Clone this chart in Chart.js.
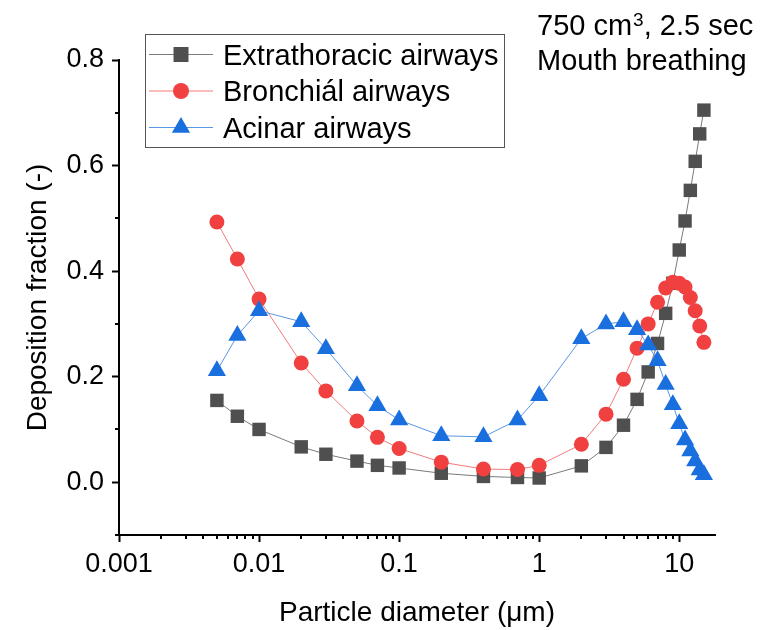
<!DOCTYPE html>
<html>
<head>
<meta charset="utf-8">
<script src="https://cdn.jsdelivr.net/npm/chart.js@4.4.1/dist/chart.umd.min.js"></script>
<style>
  html, body { margin: 0; padding: 0; background: #fff; }
</style>
</head>
<body>
<canvas id="chart" width="760" height="630"></canvas>
<script>
// particle diameters (um), the same for all three curves
const diameters = [0.005, 0.007, 0.01, 0.02, 0.03, 0.05, 0.07, 0.1, 0.2, 0.4, 0.7, 1,
  2, 3, 4, 5, 6, 7, 8, 9, 10, 11, 12, 13, 14, 15];

// deposition fractions
const extrathoracic = [0.155, 0.125, 0.100, 0.067, 0.053, 0.040, 0.032, 0.027, 0.017, 0.011, 0.009, 0.008,
  0.031, 0.066, 0.108, 0.157, 0.209, 0.263, 0.320, 0.377, 0.440, 0.495, 0.553, 0.608, 0.660, 0.705];
const bronchial = [0.493, 0.423, 0.347, 0.226, 0.173, 0.116, 0.085, 0.064, 0.038, 0.025, 0.024, 0.032,
  0.072, 0.129, 0.195, 0.254, 0.300, 0.341, 0.368, 0.379, 0.377, 0.370, 0.350, 0.325, 0.296, 0.265];
const acinar = [0.211, 0.278, 0.325, 0.304, 0.253, 0.183, 0.145, 0.118, 0.088, 0.086, 0.118, 0.164,
  0.272, 0.300, 0.304, 0.289, 0.260, 0.230, 0.185, 0.147, 0.111, 0.080, 0.059, 0.040, 0.023, 0.014];

const seriesNames = ['Extrathoracic airways', 'Bronchiál airways', 'Acinar airways'];
const xTickLabels = ['0.001', '0.01', '0.1', '1', '10'];
const yTickLabels = ['0.0', '0.2', '0.4', '0.6', '0.8'];
const noteLines = ['750 cm', '3', ', 2.5 sec', 'Mouth breathing'];

const FONT = "'Liberation Sans', Arial, sans-serif";
Chart.defaults.font.family = FONT;
Chart.defaults.color = '#000';

const toPoints = (ys) => ys.map((v, i) => ({ x: diameters[i], y: v }));

// decades get a label, the 2..9 steps in between are minor ticks
const xDecades = xTickLabels.map(Number);
const isDecade = (v) => xDecades.some(d => Math.abs(v - d) < d * 1e-6);
const yLabelFor = (v) => yTickLabels.find(l => Math.abs(Number(l) - v) < 1e-6);

// minor ticks, legend box and the note in the top right corner
const decorPlugin = {
  id: 'decor',
  afterDraw(chart) {
    const ctx = chart.ctx;
    const xs = chart.scales.x, ys = chart.scales.y;
    ctx.save();
    ctx.strokeStyle = '#000';
    ctx.lineWidth = 2;
    xs.ticks.forEach(t => {
      if (isDecade(t.value)) return;
      const px = Math.round(xs.getPixelForValue(t.value));
      ctx.beginPath();
      ctx.moveTo(px, xs.top);
      ctx.lineTo(px, xs.top + 4);
      ctx.stroke();
    });
    ys.ticks.forEach(t => {
      if (yLabelFor(t.value)) return;
      const py = Math.round(ys.getPixelForValue(t.value));
      ctx.beginPath();
      ctx.moveTo(ys.right, py);
      ctx.lineTo(ys.right - 4, py);
      ctx.stroke();
    });

    // legend
    ctx.lineWidth = 1;
    ctx.strokeStyle = '#555';
    ctx.strokeRect(145.5, 34.5, 359, 113);
    const legendRadius = { rect: 10.6, circle: 8, triangle: 10.5 };
    chart.data.datasets.forEach((ds, i) => {
      const rowY = 54.5 + i * 36.5;
      ctx.strokeStyle = ds.borderColor;
      ctx.lineWidth = 1;
      ctx.beginPath();
      ctx.moveTo(149, rowY);
      ctx.lineTo(213, rowY);
      ctx.stroke();
      ctx.fillStyle = ds.pointBackgroundColor;
      Chart.helpers.drawPoint(ctx, {
        pointStyle: ds.pointStyle, rotation: 0,
        radius: legendRadius[ds.pointStyle], borderWidth: 0
      }, 181, rowY);
      ctx.fillStyle = '#000';
      ctx.font = '29px ' + FONT;
      ctx.textAlign = 'left';
      ctx.textBaseline = 'alphabetic';
      ctx.fillText(ds.label, 223, rowY + 10);
    });

    // note
    ctx.fillStyle = '#000';
    ctx.font = '29px ' + FONT;
    let nx = 537;
    ctx.fillText(noteLines[0], nx, 35);
    nx += ctx.measureText(noteLines[0]).width;
    ctx.font = '19px ' + FONT;
    ctx.fillText(noteLines[1], nx + 1, 26);
    nx += ctx.measureText(noteLines[1]).width + 1;
    ctx.font = '29px ' + FONT;
    ctx.fillText(noteLines[2], nx, 35);
    ctx.fillText(noteLines[3], 537, 70);
    ctx.restore();
  }
};

const ctx = document.getElementById('chart').getContext('2d');
new Chart(ctx, {
  type: 'line',
  data: {
    datasets: [{
      label: seriesNames[0],
      data: toPoints(extrathoracic),
      borderColor: '#7a7a7a',
      backgroundColor: '#4f4f4f',
      pointBackgroundColor: '#4f4f4f',
      pointStyle: 'rect',
      pointRadius: 9.5,
      order: 3
    }, {
      label: seriesNames[1],
      data: toPoints(bronchial),
      borderColor: '#f27a7a',
      backgroundColor: '#f04040',
      pointBackgroundColor: '#f04040',
      pointStyle: 'circle',
      pointRadius: 7.5,
      order: 2
    }, {
      label: seriesNames[2],
      data: toPoints(acinar),
      borderColor: '#5b95e5',
      backgroundColor: '#1a6fdf',
      pointBackgroundColor: '#1a6fdf',
      pointStyle: 'triangle',
      pointRadius: 10.5,
      order: 1
    }]
  },
  options: {
    responsive: false,
    animation: false,
    elements: {
      line: { borderWidth: 1, tension: 0 },
      point: { borderWidth: 0, hoverRadius: 8 }
    },
    layout: { padding: { top: 60, right: 45, left: 0, bottom: 0 } },
    scales: {
      x: {
        type: 'logarithmic',
        min: 0.001,
        max: 18,
        afterFit: (scale) => { scale.height = 95; },
        afterBuildTicks: (scale) => {
          const vals = [];
          xDecades.forEach((d, i) => {
            vals.push(d);
            if (i < xDecades.length - 1) {
              for (let k = 2; k <= 9; k++) vals.push(k * d);
            }
          });
          scale.ticks = vals.map(v => ({ value: v }));
        },
        border: { display: true, color: '#000', width: 2 },
        grid: {
          display: true,
          drawOnChartArea: false,
          drawTicks: true,
          tickLength: 7,
          tickWidth: 2,
          tickColor: (c) => (c.tick && isDecade(c.tick.value)) ? '#000' : 'rgba(0,0,0,0)'
        },
        ticks: {
          autoSkip: false,
          maxRotation: 0,
          minRotation: 0,
          padding: 6,
          font: { size: 27 },
          callback: (v) => {
            const l = xTickLabels.find(s => Math.abs(Number(s) - v) < Number(s) * 1e-6);
            return l || '';
          }
        },
        title: {
          display: true,
          text: 'Particle diameter (μm)',
          font: { size: 28 },
          padding: { top: 0, bottom: 0 }
        }
      },
      y: {
        min: -0.1,
        max: 0.8,
        afterFit: (scale) => { scale.width = 119; },
        border: { display: true, color: '#000', width: 2 },
        grid: {
          display: true,
          drawOnChartArea: false,
          drawTicks: true,
          tickLength: 7,
          tickWidth: 2,
          tickColor: (c) => (c.tick && yLabelFor(c.tick.value)) ? '#000' : 'rgba(0,0,0,0)'
        },
        ticks: {
          stepSize: 0.1,
          padding: 8,
          font: { size: 27 },
          callback: (v) => yLabelFor(v) || ''
        },
        title: {
          display: true,
          text: 'Deposition fraction (-)',
          font: { size: 28 },
          padding: { top: 21, bottom: 0 }
        }
      }
    },
    plugins: {
      legend: { display: false },
      tooltip: { enabled: false }
    }
  },
  plugins: [decorPlugin]
});
</script>
</body>
</html>
